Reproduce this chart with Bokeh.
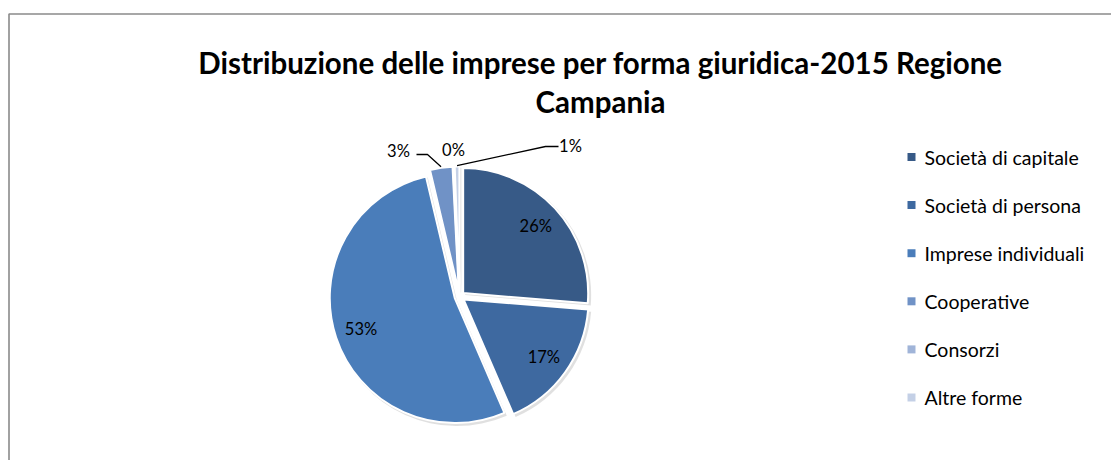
import math
from bokeh.plotting import figure
from bokeh.models import Range1d, ColumnDataSource
from bokeh.core.properties import value
from bokeh.embed import file_html
from bokeh.resources import INLINE

# ---- data ----
categories = ["Società di capitale", "Società di persona", "Imprese individuali",
              "Cooperative", "Consorzi", "Altre forme"]
shares = [26.3, 17.2, 52.8, 2.9, 0.2, 0.6]
pct_labels = ["26%", "17%", "53%", "3%", "0%", "1%"]
title_lines = ["Distribuzione delle imprese per forma giuridica-2015 Regione", "Campania"]

# ---- style / layout ----
colors = ["#375A87", "#3E69A0", "#4A7DBA", "#7092C6", "#A0B4D8", "#C4D0E6"]
W, H = 1111, 460
FONT = "Lato"

def sx(x):  # picture x -> data x
    return x

def sy(y):  # picture y -> data y
    return H - y

cx, cy = sx(459), sy(296)
R = 125
EXPLODE = 5

p = figure(width=W, height=H, output_backend="svg", toolbar_location=None,
           x_range=Range1d(0, W), y_range=Range1d(0, H), min_border=0,
           outline_line_color=None)
p.axis.visible = False
p.grid.visible = False
p.background_fill_color = "white"
p.border_fill_color = "white"

# chart frame (cropped on right/bottom)
p.line(x=[sx(8.5), sx(8.5), W + 5], y=[-5, sy(13.5), sy(13.5)],
       line_color="#8a8a8a", line_width=1.6)

# title
title_y = [61.5, 100.5]
for i, t in enumerate(title_lines):
    p.text(x=[sx(600)], y=[sy(title_y[i])], text=[t], text_font=value(FONT),
           text_font_style="bold", text_font_size="29.5px", text_color="#000000",
           text_align="center", text_baseline="middle")

# pie
total = sum(shares)
starts, ends, mids, xs, ys = [], [], [], [], []
cum = 0.0
for v in shares:
    a0 = math.pi / 2 - cum / total * 2 * math.pi
    cum += v
    a1 = math.pi / 2 - cum / total * 2 * math.pi
    m = (a0 + a1) / 2
    starts.append(a0); ends.append(a1); mids.append(m)
    xs.append(cx + EXPLODE * math.cos(m)); ys.append(cy + EXPLODE * math.sin(m))

src = ColumnDataSource(dict(x=xs, y=ys, s=starts, e=ends, c=colors,
                            sx_=[x + 2 for x in xs], sy_=[y - 2 for y in ys]))
# soft shadow
p.wedge(x="sx_", y="sy_", radius=R + 1, start_angle="s", end_angle="e",
        direction="clock", fill_color="#000000", fill_alpha=0.12, line_color=None,
        source=src)
p.wedge(x="x", y="y", radius=R, start_angle="s", end_angle="e", direction="clock",
        fill_color="c", line_color="white", line_width=2, source=src)

# inside labels
in_x, in_y, in_t = [], [], []
for i in range(3):
    rr = 0.79 * R
    in_x.append(xs[i] + rr * math.cos(mids[i]))
    in_y.append(ys[i] + rr * math.sin(mids[i]))
    in_t.append(pct_labels[i])
p.text(x=in_x, y=in_y, text=in_t, text_font=value(FONT), text_font_size="16.5px",
       text_color="#000000", text_align="center", text_baseline="middle")

# outside labels with leader lines (Cooperative, Consorzi, Altre forme)
out_text_pos = {3: (398, 150), 4: (453, 149), 5: (570, 145)}
elbows = {3: [(416, 154), (427, 154)], 5: [(558, 146), (545, 146)]}
for i, (tx, ty) in out_text_pos.items():
    p.text(x=[sx(tx)], y=[sy(ty)], text=[pct_labels[i]], text_font=value(FONT),
           text_font_size="16.5px", text_color="#000000", text_align="center",
           text_baseline="middle")
    if i in elbows:
        ex = xs[i] + (R + 1) * math.cos(mids[i])
        ey = ys[i] + (R + 1) * math.sin(mids[i])
        pts = elbows[i]
        p.line(x=[sx(pts[0][0]), sx(pts[1][0]), ex],
               y=[sy(pts[0][1]), sy(pts[1][1]), ey],
               line_color="#000000", line_width=1.3)

# legend
leg_y0, leg_dy = 156.5, 48.1
for i, name in enumerate(categories):
    yc = leg_y0 + leg_dy * i
    p.rect(x=[sx(911)], y=[sy(yc)], width=8, height=8, fill_color=colors[i],
           line_color=None)
    p.text(x=[sx(924)], y=[sy(yc)], text=[name], text_font=value(FONT),
           text_font_size="19.5px", text_color="#000000", text_align="left",
           text_baseline="middle")

open("out.html", "w").write(file_html(p, INLINE))
